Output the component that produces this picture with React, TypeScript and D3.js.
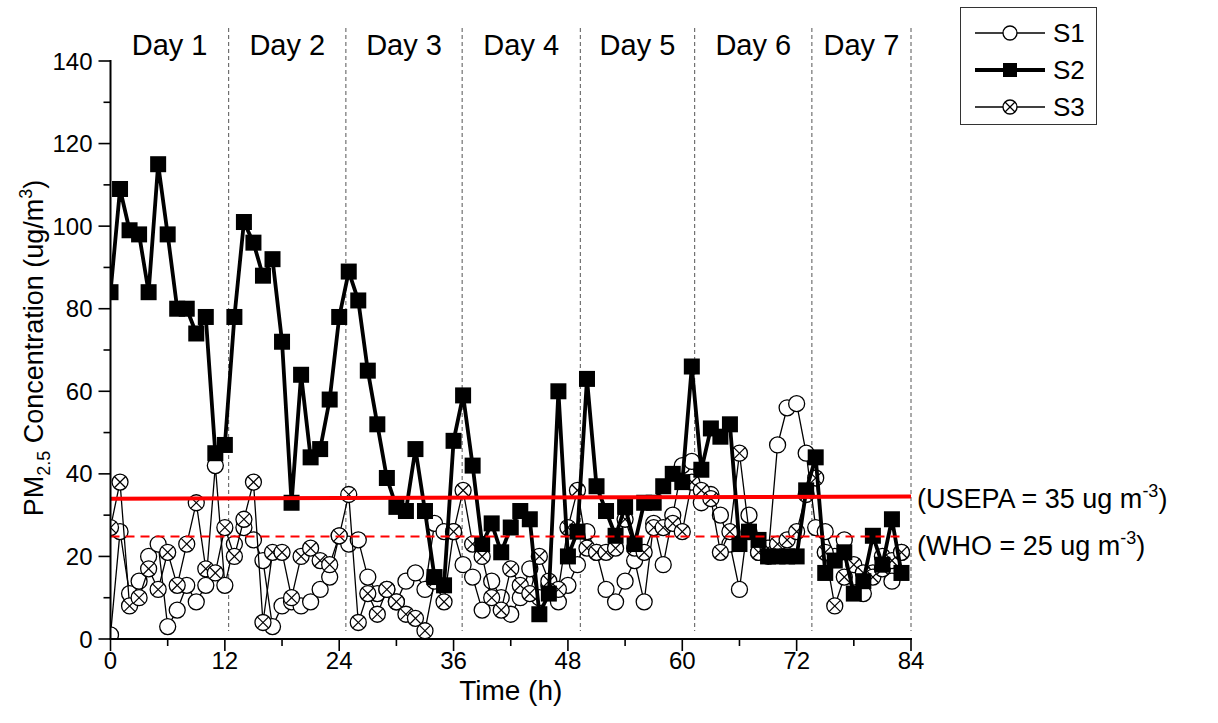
import React from "react";
import * as d3 from "d3";

// hourly sampling index 0..83
const hours: number[] = Array.from({ length: 84 }, (_, i) => i);

const s1Values: number[] = [
  1, 26, 11, 14, 20, 23, 3, 7, 13, 9, 13, 42, 13, 23, 27, 24, 19, 3, 8, 9,
  8, 9, 12, 15, 25, 23, 24, 15, 11, 12, 9, 14, 16, 12, 28, 26, 26, 18, 15, 7,
  14, 10, 6, 10, 17, 10, 13, 9, 13, 18, 26, 21, 12, 9, 14, 19, 9, 28, 18, 30,
  42, 43, 33, 35, 30, 23, 12, 30, 21, 20, 47, 56, 57, 45, 27, 26, 20, 24, 15, 11,
  16, 20, 14, 21,
];

const s2Values: number[] = [
  84, 109, 99, 98, 84, 115, 98, 80, 80, 74, 78, 45, 47, 78, 101, 96, 88, 92, 72, 33,
  64, 44, 46, 58, 78, 89, 82, 65, 52, 39, 32, 31, 46, 31, 15, 13, 48, 59, 42, 23,
  28, 21, 27, 31, 29, 6, 11, 60, 20, 26, 63, 37, 31, 25, 32, 23, 33, 33, 37, 40,
  38, 66, 41, 51, 49, 52, 23, 26, 24, 20, 20, 20, 20, 36, 44, 16, 19, 21, 11, 14,
  25, 18, 29, 16,
];

const s3Values: number[] = [
  27, 38, 8, 10, 17, 12, 21, 13, 23, 33, 17, 16, 27, 20, 29, 38, 4, 21, 21, 10,
  20, 22, 19, 18, 25, 35, 4, 11, 6, 12, 9, 6, 5, 2, 14, 9, 26, 36, 23, 20,
  10, 7, 17, 13, 11, 20, 14, 12, 27, 36, 22, 21, 21, 22, 29, 22, 21, 27, 27, 28,
  26, 38, 36, 34, 21, 26, 45, 26, 21, 22, 23, 24, 26, 35, 39, 21, 8, 15, 18, 16,
  15, 17, 19, 21,
];

const dayBoundaries: number[] = [12.4, 24.7, 36.9, 49.3, 61.3, 73.6, 84];
const dayLabels: string[] = ["Day 1", "Day 2", "Day 3", "Day 4", "Day 5", "Day 6", "Day 7"];
const xTicks: number[] = [0, 12, 24, 36, 48, 60, 72, 84];
const xMinorTicks: number[] = [6, 18, 30, 42, 54, 66, 78];
const yTicks: number[] = [0, 20, 40, 60, 80, 100, 120, 140];
const yMinorTicks: number[] = [10, 30, 50, 70, 90, 110, 130];
const usepaLine: number[] = [34, 34.5];
const whoLevel = 24.8;

const FONT = "'Liberation Sans', Arial, sans-serif";

export default function App() {
  const x = d3.scaleLinear().domain([0, 84]).range([110.5, 911]);
  const y = d3.scaleLinear().domain([0, 140]).range([639, 61]);
  const left = x(0);
  const right = x(84);
  const bottom = y(0);

  const mk = (vals: number[]) =>
    d3
      .line<number>()
      .x((_, i) => x(hours[i]))
      .y((v) => y(v))(vals) as string;

  const r = 8;
  const xo = r * Math.SQRT1_2;

  const dayStarts = [0, ...dayBoundaries.slice(0, -1)];

  return (
    <svg
      width={1218}
      height={723}
      style={{ position: "absolute", left: 0, top: 0, background: "#fff" }}
      fontFamily={FONT}
    >
      <defs>
        <clipPath id="plotclip">
          <rect x={left} y={0} width={right - left + 10} height={bottom} />
        </clipPath>
      </defs>
      <rect x={0} y={0} width={1218} height={723} fill="#fff" />

      {/* day dividers */}
      {dayBoundaries.map((d, i) => (
        <line
          key={"div" + i}
          x1={x(d)}
          x2={x(d)}
          y1={28}
          y2={bottom - 8}
          stroke="#555"
          strokeWidth={1}
          strokeDasharray="4,3"
        />
      ))}
      {dayLabels.map((t, i) => (
        <text
          key={"day" + i}
          x={(x(dayStarts[i]) + x(dayBoundaries[i])) / 2}
          y={55}
          fontSize={29}
          textAnchor="middle"
          fill="#000"
        >
          {t}
        </text>
      ))}

      <g clipPath="url(#plotclip)">
        {/* S1 */}
        <path d={mk(s1Values)} fill="none" stroke="#000" strokeWidth={1.3} />
        {s1Values.map((v, i) => (
          <circle key={"s1" + i} cx={x(hours[i])} cy={y(v)} r={r} fill="#fff" stroke="#000" strokeWidth={1.3} />
        ))}
        {/* S3 */}
        <path d={mk(s3Values)} fill="none" stroke="#000" strokeWidth={1.3} />
        {s3Values.map((v, i) => {
          const cx = x(hours[i]);
          const cy = y(v);
          return (
            <g key={"s3" + i}>
              <circle cx={cx} cy={cy} r={r} fill="#fff" stroke="#000" strokeWidth={1.3} />
              <line x1={cx - xo} y1={cy - xo} x2={cx + xo} y2={cy + xo} stroke="#000" strokeWidth={1.2} />
              <line x1={cx - xo} y1={cy + xo} x2={cx + xo} y2={cy - xo} stroke="#000" strokeWidth={1.2} />
            </g>
          );
        })}
        {/* S2 */}
        <path d={mk(s2Values)} fill="none" stroke="#000" strokeWidth={3.8} strokeLinejoin="miter" />
        {s2Values.map((v, i) => (
          <rect key={"s2" + i} x={x(hours[i]) - 8} y={y(v) - 8} width={16} height={16} fill="#000" />
        ))}
      </g>

      {/* guideline lines */}
      <line x1={left} x2={right} y1={y(usepaLine[0])} y2={y(usepaLine[1])} stroke="#ff0000" strokeWidth={4} />
      <line
        x1={left}
        x2={x(83)}
        y1={y(whoLevel)}
        y2={y(whoLevel)}
        stroke="#ff0000"
        strokeWidth={2}
        strokeDasharray="9,6"
      />

      {/* axes */}
      <line x1={left} x2={left} y1={y(140) - 1} y2={bottom} stroke="#000" strokeWidth={2} />
      <line x1={left - 1} x2={right + 1} y1={bottom} y2={bottom} stroke="#000" strokeWidth={2} />
      {yTicks.map((t) => (
        <g key={"yt" + t}>
          <line x1={left - 12} x2={left} y1={y(t)} y2={y(t)} stroke="#000" strokeWidth={1.6} />
          <text x={left - 18} y={y(t) + 8.5} fontSize={24} textAnchor="end" fill="#000">
            {t}
          </text>
        </g>
      ))}
      {yMinorTicks.map((t) => (
        <line key={"ym" + t} x1={left - 7} x2={left} y1={y(t)} y2={y(t)} stroke="#000" strokeWidth={1.6} />
      ))}
      {xTicks.map((t) => (
        <g key={"xt" + t}>
          <line x1={x(t)} x2={x(t)} y1={bottom} y2={bottom + 12} stroke="#000" strokeWidth={1.6} />
          <text x={x(t)} y={bottom + 30} fontSize={24} textAnchor="middle" fill="#000">
            {t}
          </text>
        </g>
      ))}
      {xMinorTicks.map((t) => (
        <line key={"xm" + t} x1={x(t)} x2={x(t)} y1={bottom} y2={bottom + 7} stroke="#000" strokeWidth={1.6} />
      ))}

      {/* axis titles */}
      <text x={(left + right) / 2} y={700} fontSize={28} textAnchor="middle" fill="#000">
        Time (h)
      </text>
      <text transform="translate(43,348) rotate(-90)" fontSize={27} textAnchor="middle" fill="#000">
        PM
        <tspan fontSize={18} dy={7}>2.5</tspan>
        <tspan dy={-7}> Concentration (ug/m</tspan>
        <tspan fontSize={18} dy={-11}>3</tspan>
        <tspan dy={11}>)</tspan>
      </text>

      {/* guideline labels */}
      <text x={917} y={508} fontSize={27} fill="#000">
        (USEPA = 35 ug m<tspan fontSize={18} dy={-11}>-3</tspan>
        <tspan dy={11}>)</tspan>
      </text>
      <text x={917} y={555} fontSize={27} fill="#000">
        (WHO = 25 ug m<tspan fontSize={18} dy={-11}>-3</tspan>
        <tspan dy={11}>)</tspan>
      </text>

      {/* legend */}
      <rect x={960.5} y={7.5} width={136} height={117} fill="#fff" stroke="#333" strokeWidth={1} />
      <line x1={975} x2={1045} y1={33} y2={33} stroke="#000" strokeWidth={1.3} />
      <circle cx={1010} cy={33} r={7} fill="#fff" stroke="#000" strokeWidth={1.3} />
      <text x={1053} y={42} fontSize={26} fill="#000">S1</text>
      <line x1={975} x2={1045} y1={70} y2={70} stroke="#000" strokeWidth={3.8} />
      <rect x={1003} y={63} width={14} height={14} fill="#000" />
      <text x={1053} y={79} fontSize={26} fill="#000">S2</text>
      <line x1={975} x2={1045} y1={107} y2={107} stroke="#000" strokeWidth={1.3} />
      <circle cx={1010} cy={107} r={7} fill="#fff" stroke="#000" strokeWidth={1.3} />
      <line x1={1005} y1={102} x2={1015} y2={112} stroke="#000" strokeWidth={1.2} />
      <line x1={1005} y1={112} x2={1015} y2={102} stroke="#000" strokeWidth={1.2} />
      <text x={1053} y={116} fontSize={26} fill="#000">S3</text>
    </svg>
  );
}
